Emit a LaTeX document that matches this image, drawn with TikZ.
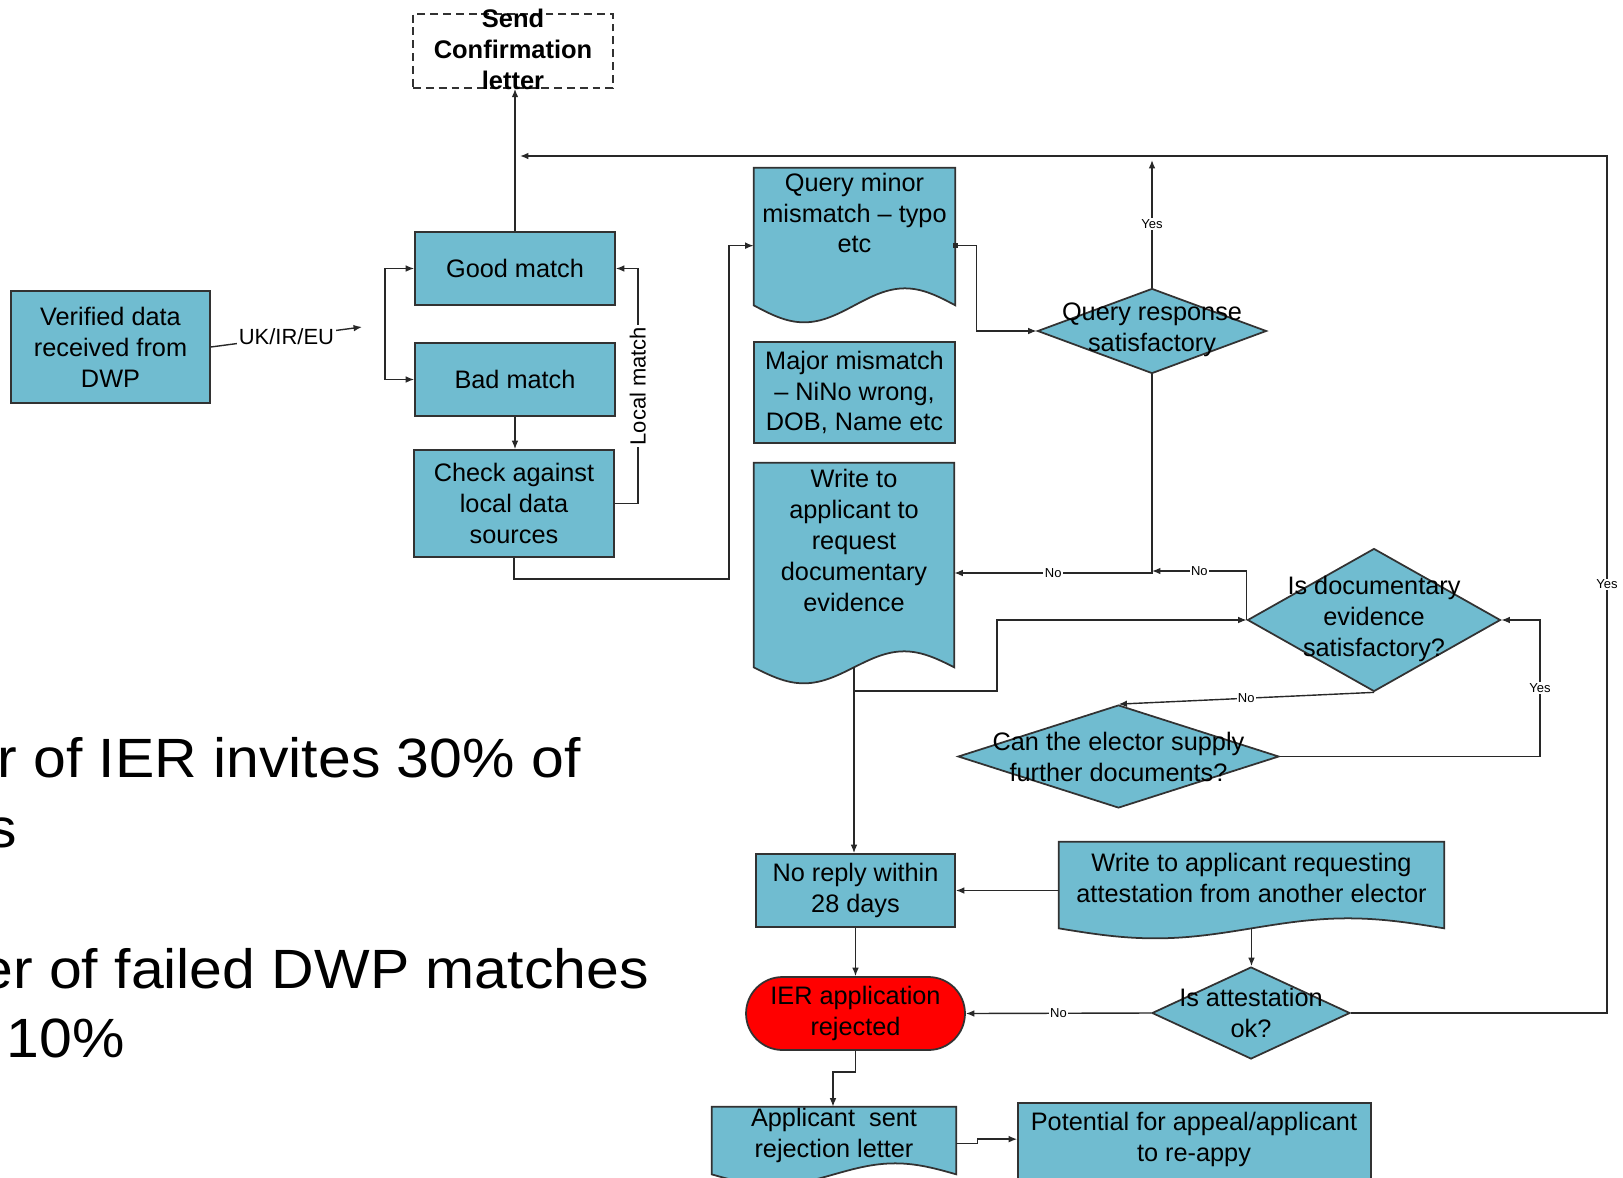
\documentclass[tikz,border=0pt]{standalone}
\usepackage{fontspec}
\setmainfont{Liberation Sans}
\usepackage{graphicx}
\usetikzlibrary{arrows.meta,calc,shapes.geometric}

\definecolor{boxfill}{RGB}{112,188,208}
\definecolor{edgecol}{RGB}{50,50,50}
\definecolor{wirecol}{RGB}{40,40,40}
\definecolor{rejectred}{RGB}{255,0,0}

\newcommand\bodyfont{\fontsize{14.4}{17.6}\selectfont}

% document shape (wavy bottom) drawn around a named region node
\newcommand\docoutline[2]{%
  \path[docshape] (#1.north west) -- (#1.north east) -- (#1.south east)
    sin ($(#1.south east)!0.25!(#1.south west)+(0,-#2)$)
    cos (#1.south)
    sin ($(#1.south west)!0.25!(#1.south east)+(0,#2)$)
    cos (#1.south west) -- cycle;}

\begin{document}
\begin{tikzpicture}[x=0.02cm,y=-0.02cm,
  box/.style={draw=edgecol, fill=boxfill, line width=1pt, inner sep=0,
    align=center, font=\bodyfont},
  dashbox/.style={draw=edgecol, line width=0.9pt, dash pattern=on 4.5pt off 2.8pt, inner sep=0},
  region/.style={inner sep=0},
  docshape/.style={draw=edgecol, fill=boxfill, line width=1pt},
  dia/.style={diamond, draw=edgecol, fill=boxfill, line width=1pt, inner sep=0},
  txt/.style={inner sep=0, align=center, font=\bodyfont},
  boldtxt/.style={inner sep=0, align=center, font=\fontsize{14.5}{17.6}\selectfont\bfseries},
  lbl/.style={fill=white, inner sep=1pt, font=\fontsize{12.5}{14}\selectfont},
  yn/.style={fill=white, inner sep=0.8pt, font=\fontsize{7.4}{8}\selectfont},
  slide/.style={inner sep=0, font=\fontsize{31.5}{36}\selectfont},
  conn/.style={draw=wirecol, line width=0.8pt, -{Latex[length=4.8pt,width=3.8pt]}},
]
\useasboundingbox (0,0) rectangle (1623,1177);

% slide text behind the flowchart
\node[slide, anchor=base west] (s1) at (-3,777) {\scalebox{1.065}[1]{r of IER invites 30\% of}};
\node[slide, anchor=base east] (s2) at (17,847) {\scalebox{1.065}[1]{s}};
\node[slide, anchor=base west] (s3) at (-20,988) {\scalebox{1.065}[1]{er of failed DWP matches}};
\node[slide, anchor=base west] (s4) at (6.5,1057) {\scalebox{1.065}[1]{10\%}};

% shapes
\node[dashbox, minimum width=4cm, minimum height=1.48cm] (confirm) at (513,51) {};
\node[boldtxt] (confirm-t) at (513,49) {Send\\Confirmation\\letter};

\node[box, minimum width=3.98cm, minimum height=2.24cm] (verified) at (110.5,347) {Verified data\\received from\\DWP};
\node[box, minimum width=4cm, minimum height=1.46cm] (good) at (515,268.5) {Good match};
\node[box, minimum width=4cm, minimum height=1.46cm] (bad) at (515,379.5) {Bad match};
\node[box, minimum width=4cm, minimum height=2.14cm] (check) at (514,503.5) {Check against\\local data\\sources};

\node[region, minimum width=4.02cm, minimum height=2.74cm] (qm) at (854.5,236.5) {};
\docoutline{qm}{17}
\node[txt] (qm-t) at (854.5,213) {Query minor\\mismatch – typo\\etc};

\node[box, minimum width=4.02cm, minimum height=2.02cm] (maj) at (854.5,392.5) {Major mismatch\\– NiNo wrong,\\DOB, Name etc};

\node[region, minimum width=4cm, minimum height=4.08cm] (wd) at (854,565) {};
\docoutline{wd}{16}
\node[txt] (wd-t) at (854,540.5) {Write to\\applicant to\\request\\documentary\\evidence};

\node[dia, minimum width=4.58cm, minimum height=1.70cm] (qr) at (1152,331) {};
\node[txt] (qr-t) at (1152,330) {Query response\\satisfactory};

\node[dia, minimum width=5.06cm, minimum height=2.86cm] (id) at (1374,620) {};
\node[txt] (id-t) at (1374,619) {Is documentary\\evidence\\satisfactory?};

\node[dia, minimum width=6.42cm, minimum height=2.06cm] (ce) at (1118.5,756.5) {};
\node[txt] (ce-t) at (1118.5,757) {Can the elector supply\\further documents?};

\node[box, minimum width=3.98cm, minimum height=1.46cm] (nr) at (855.5,890.5) {No reply within\\28 days};

\node[region, minimum width=7.7cm, minimum height=1.72cm] (wr) at (1251.5,885) {};
\docoutline{wr}{10}
\node[txt] (wr-t) at (1251.5,877.5) {Write to applicant requesting\\attestation from another elector};

\node[dia, minimum width=3.96cm, minimum height=1.84cm] (att) at (1251,1013) {};
\node[txt] (att-t) at (1251,1013) {Is attestation\\ok?};

\node[box, fill=rejectred, rounded corners=0.73cm, minimum width=4.38cm, minimum height=1.46cm] (ier) at (855.5,1013.5) {IER application\\rejected};

\node[region, minimum width=4.88cm, minimum height=1.34cm] (as) at (834,1140.5) {};
\docoutline{as}{11}
\node[txt] (as-t) at (834,1135) {Applicant\ \ sent\\rejection letter};

\node[box, minimum width=7.06cm, minimum height=1.94cm] (pot) at (1194.5,1151.5) {};
\node[txt] (pot-t) at (1194,1139.5) {Potential for appeal/applicant\\to re-appy};

% connectors
\draw[conn] (good.north) -- (good.north |- confirm.south);

\coordinate (ukend) at (362,327);
\coordinate (fork) at (385,324);
\draw[conn] (verified.east) -- node[lbl]{UK/IR/EU} (ukend);
\draw[conn] (fork) |- (good.west);
\draw[conn] (fork) |- (bad.west);

\draw[conn] (bad.south) -- (bad.south |- check.north);
\coordinate (lmb) at ($(check.east)+(23,0)$);
\draw[conn] (check.east) -- (lmb) -- node[lbl, rotate=90]{Local match} (lmb |- good.east) -- (good.east);

\coordinate (c1) at (729,579);
\coordinate (qmin) at ($(qm.north west)+(0,78)$);
\draw[conn] (check.south) |- (c1) |- (qmin);

\coordinate (qmout) at ($(qm.north east)+(0,78)$);
\coordinate (q1) at ($(qmout)+(21,0)$);
\draw[conn] (qmout) -- (q1) |- (qr.west);
\fill[wirecol] ($(qmout)+(-2.5,-2.5)$) rectangle ($(qmout)+(2.5,2.5)$);

\coordinate (yestop) at (1152,160);
\draw[conn] (qr.north) -- node[yn]{Yes} (yestop);

\coordinate (j1) at (1152,573);
\draw[conn] (qr.south) -- (j1) -- node[yn]{No} (wd.east |- j1);

\coordinate (j2) at ($(id.west)+(0,-49)$);
\draw[conn] (id.west) -- (j2) -- node[yn]{No} (j1 |- j2);

\coordinate (k1) at (997,691);
\draw[conn] (wd.south) |- (k1) |- (id.west);
\draw[conn] (wd.south) -- (wd.south |- nr.north);

\draw[conn] (id.south) -- node[yn]{No} (ce.north);

\coordinate (m1) at (1540,756.5);
\draw[conn] (ce.east) -- (m1) -- node[yn]{Yes} (m1 |- id.east) -- (id.east);

\draw[conn] (wr.west |- nr.east) -- (nr.east);
\draw[conn] (wr.south) -- (wr.south |- att.north);
\draw[conn] (nr.south) -- (ier.north);
\draw[conn] (att.west) -- node[yn]{No} (ier.east);

\coordinate (rb) at (1607,1013);
\coordinate (rt) at (1607,156);
\coordinate (fbend) at (520,156);
\draw[conn] (att.east) -- (rb) -- node[yn]{Yes} (rt) -- (fbend);

\coordinate (r1) at (833,1072);
\draw[conn] (ier.south) |- (r1) -- (r1 |- as.north);

\coordinate (asout) at ($(as.north east)+(0,37)$);
\coordinate (potin) at ($(pot.north west)+(0,37)$);
\draw[conn] (asout) -- ++(21,0) |- (potin);
\end{tikzpicture}
\end{document}
